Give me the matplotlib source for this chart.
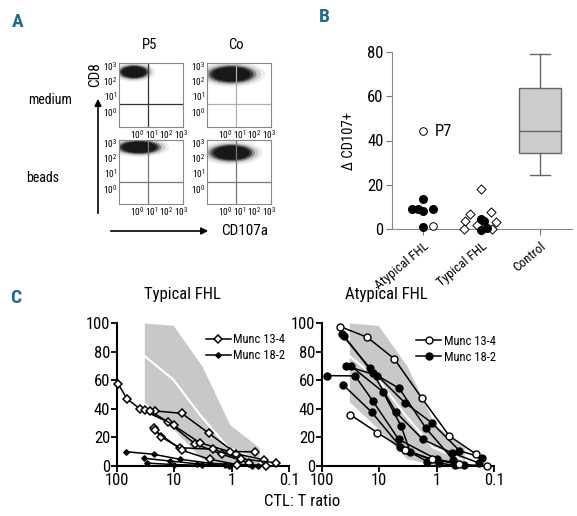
import numpy as np
import matplotlib
matplotlib.use("Agg")
from matplotlib import pyplot as plt
from matplotlib.patches import Ellipse

plt.rcParams['font.family'] = ['Roboto Condensed', 'DejaVu Sans']
plt.rcParams['mathtext.fontset'] = 'custom'
plt.rcParams['mathtext.rm'] = 'Roboto Condensed'
plt.rcParams['mathtext.it'] = 'Roboto Condensed'

# panel A: flow plots (cloud centre / size in decades)
flow_titles = ["P5", "Co"]
flow_rows = ["medium", "beads"]
cloud_x = [-0.2, 0.45, 0.15, 0.45]
cloud_y = [2.6, 2.45, 2.72, 2.35]
cloud_w = [1.9, 3.0, 2.7, 2.8]
cloud_h = [0.85, 1.1, 0.85, 1.05]
gate_x = [0.72, 0.78, 0.72, 0.74]
gate_y = [0.49, 0.49, 0.43, 0.38]
gate_col = ["#333333", "#b0b0b0", "#777777", "#777777"]

# panel B: delta CD107+
groups = ["Atypical FHL", "Typical FHL", "Control"]
atyp_fill_x = [0.81, 0.91, 1.0, 1.0, 1.17, 1.0]
atyp_fill_y = [8.9, 9.2, 8.1, 13.7, 8.9, 1.1]
atyp_open_x = [1.0, 1.17]
atyp_open_y = [44.3, 1.4]
typ_open_x = [1.72, 1.80, 1.70, 1.92, 2.0, 2.17, 2.25, 2.18]
typ_open_y = [3.8, 6.6, 0.0, 1.8, 18.1, 7.5, 3.3, 0.2]
typ_fill_x = [2.0, 2.04, 2.0, 2.1]
typ_fill_y = [4.4, 3.6, -0.6, 0.6]
ctrl_stats = dict(med=44.2, q1=34.2, q3=63.9, whislo=24.4, whishi=79.0)

# panel C: control range and median
band_x = [33.4, 10.5, 3.3, 1.08, 0.33]
band_top = [100, 98.4, 70, 29, 12.8]
band_low = [45, 26, 5, 1, 0.5]
med_x = [33.4, 10.5, 3.6, 1.15, 0.37]
med_y = [77, 60.6, 36, 12.8, 4.7]

# typical FHL curves (x = CTL:T ratio, y = % lysis)
typ13_x = [[96, 67, 40, 13, 4.4, 1.5, 0.5],
           [32, 21.6, 7.4, 2.5, 0.83, 0.27],
           [26.4, 10.3, 3.6, 1.08, 0.39],
           [23, 17, 8, 2.1, 0.7, 0.17],
           [22, 7.4, 2.4, 0.8, 0.25]]
typ13_y = [[57.6, 47, 40, 30.8, 15.6, 8.2, 2.3],
           [39, 38.5, 36.8, 22.9, 8.6, 4.2],
           [38.5, 28.4, 16.3, 10, 10],
           [26.3, 20.3, 12.8, 11.7, 5, 2.3],
           [25, 11, 4.7, 1, 0.3]]
typ18_x = [[70, 23, 8, 2.4, 0.8, 0.25],
           [34, 12, 4, 1.3, 0.45],
           [30, 10, 3.3, 1.1, 0.35]]
typ18_y = [[10, 8.2, 4.7, 2, 0.8, 0.3],
           [5.4, 3.5, 1.5, 0.5, 0.2],
           [2, 1, 0.5, 0.3, 0.1]]

# atypical FHL curves
atyp13_x = [[48, 16.2, 5.5, 1.82, 0.6, 0.21],
            [32.5, 10.8, 3.6, 1.2, 0.4, 0.13]]
atyp13_y = [[97.5, 90, 75, 47.5, 21, 8.5],
            [36, 23.3, 11.2, 4.7, 1.2, 0]]
atyp18_x = [[45, 14.5, 3.6, 1.22, 0.4, 0.16],
            [41.3, 13, 5.1, 1.75, 0.55, 0.18],
            [38, 10.8, 4.5, 1.53, 0.51],
            [31.6, 8.7, 4.2, 2.9, 0.9],
            [80.7, 26.5, 13, 4.6, 1.0, 0.33],
            [42.4, 13.5, 4.3, 1.45, 0.48]]
atyp18_y = [[92, 68.3, 44.3, 30.3, 10.7, 5.8],
            [91, 65, 37.5, 18.6, 9.3, 2],
            [70, 63.2, 54.3, 26.3, 4.2],
            [70, 52, 28.2, 10, 2],
            [63.2, 63, 45.5, 18.6, 4.7, 1],
            [56.6, 37.5, 13.5, 3, 0.5]]

letter_col = "#1f6a8e"
W, H = 577, 516
fig = plt.figure(figsize=(W / 100, H / 100), dpi=100)

def fx(px):
    return px / W

def fy(py):
    return 1 - py / H

# ---------------- panel A ----------------
fig.text(fx(12), fy(22), "A", color=letter_col, fontsize=14, fontweight="bold", va="center")
box_left = [119, 207, 119, 207]
box_top = [63, 63, 140, 140]
dec = ["$10^0$", "$10^1$", "$10^2$", "$10^3$"]
for i in range(4):
    ax = fig.add_axes([fx(box_left[i]), fy(box_top[i] + 64), fx(64), 64 / H])
    ax.set_xlim(-1.2, 3.1)
    ax.set_ylim(-1.05, 3.2)
    # layered ellipses stand in for the dot cloud
    for scale, alpha in [(1.5, 0.08), (1.3, 0.15), (1.12, 0.35), (0.98, 0.65), (0.85, 0.92)]:
        e = Ellipse((cloud_x[i], cloud_y[i]), cloud_w[i] * scale, cloud_h[i] * scale,
                    facecolor="#151515", edgecolor="none", alpha=alpha)
        ax.add_patch(e)
    ax.axvline(gate_x[i], color=gate_col[i], lw=0.9)
    ax.axhline(gate_y[i], color=gate_col[i], lw=0.9)
    ax.set_xticks([0, 1, 2, 3])
    ax.set_xticklabels(dec, fontsize=6.8)
    ax.set_yticks([0, 1, 2, 3])
    ax.set_yticklabels(dec, fontsize=6.8)
    ax.tick_params(length=0, pad=1.2)
    for s in ax.spines.values():
        s.set_color("#888888")
        s.set_linewidth(0.8)

fig.text(fx(150), fy(45), flow_titles[0], fontsize=10.5, ha="center", va="center")
fig.text(fx(236), fy(45), flow_titles[1], fontsize=10.5, ha="center", va="center")
fig.text(fx(50), fy(100), flow_rows[0], fontsize=10, ha="center", va="center")
fig.text(fx(43), fy(178), flow_rows[1], fontsize=10, ha="center", va="center")
fig.text(fx(95), fy(75), "CD8", fontsize=11, rotation=90, ha="center", va="center")
plt.annotate("", xy=(fx(98), fy(96)), xytext=(fx(98), fy(216)), xycoords="figure fraction",
             arrowprops=dict(arrowstyle="-|>", color="black", lw=1.2, mutation_scale=10))
plt.annotate("", xy=(fx(211), fy(231)), xytext=(fx(108), fy(231)), xycoords="figure fraction",
             arrowprops=dict(arrowstyle="-|>", color="black", lw=1.2, mutation_scale=10))
fig.text(fx(221), fy(231), "CD107a", fontsize=11, ha="left", va="center")

# ---------------- panel B ----------------
fig.text(fx(319), fy(17), "B", color=letter_col, fontsize=14, fontweight="bold", va="center")
axb = fig.add_axes([fx(392), fy(229), fx(180), 177 / H])
axb.scatter(atyp_fill_x, atyp_fill_y, s=30, color="black", zorder=3, clip_on=False)
axb.scatter(atyp_open_x, atyp_open_y, s=30, facecolor="white", edgecolor="black", lw=0.7, zorder=3, clip_on=False)
axb.scatter(typ_open_x, typ_open_y, marker="D", s=22, facecolor="white", edgecolor="black", lw=0.7, zorder=3, clip_on=False)
axb.scatter(typ_fill_x, typ_fill_y, s=30, color="black", zorder=4, clip_on=False)
axb.text(1.2, 44, "P7", fontsize=12, va="center")
st = dict(ctrl_stats)
st["fliers"] = []
axb.bxp([st], positions=[3], widths=0.72, patch_artist=True, showfliers=False,
        boxprops=dict(facecolor="#cccccc", edgecolor="#666666", lw=1),
        medianprops=dict(color="#666666", lw=1),
        whiskerprops=dict(color="#666666", lw=1),
        capprops=dict(color="#666666", lw=1), capwidths=0.34)
axb.set_xlim(0.47, 3.55)
axb.set_ylim(0, 80)
axb.set_xticks([1, 2, 3])
axb.set_xticklabels(groups, rotation=40, ha="right", rotation_mode="anchor", fontsize=9.5)
axb.set_yticks([0, 20, 40, 60, 80])
axb.tick_params(axis="y", labelsize=12, color="#777777", length=4, pad=2)
axb.tick_params(axis="x", color="#777777", length=4)
axb.set_ylabel("Δ CD107+", fontsize=10.5, labelpad=8)
for s in ["top", "right"]:
    axb.spines[s].set_visible(False)
for s in ["left", "bottom"]:
    axb.spines[s].set_color("#888888")

# ---------------- panel C ----------------
fig.text(fx(10), fy(298), "C", color=letter_col, fontsize=14, fontweight="bold", va="center")

def style_c(ax):
    ax.set_xscale("log")
    ax.set_xlim(100, 0.1)
    ax.set_ylim(0, 100)
    ax.set_xticks([100, 10, 1, 0.1])
    ax.set_xticklabels(["100", "10", "1", "0.1"])
    ax.minorticks_off()
    ax.set_yticks([0, 20, 40, 60, 80, 100])
    ax.tick_params(labelsize=12, width=1.3, length=4, pad=1)
    for s in ["top", "right"]:
        ax.spines[s].set_visible(False)
    for s in ["left", "bottom"]:
        ax.spines[s].set_linewidth(1.5)
    ax.fill_between(band_x, band_low, band_top, color="#c8c8c8", lw=0, zorder=1)
    ax.plot(med_x, med_y, color="white", lw=1.5, zorder=2)

axt = fig.add_axes([fx(117), fy(466), fx(172), 143 / H])
style_c(axt)
for i in range(len(typ18_x)):
    axt.plot(typ18_x[i], typ18_y[i], "-D", color="black", ms=2.8, lw=1.1, zorder=3, clip_on=False,
             label="Munc 18-2" if i == 0 else None)
for i in range(len(typ13_x)):
    axt.plot(typ13_x[i], typ13_y[i], "-D", color="black", mfc="white", mec="black", ms=4.3, mew=1.1,
             lw=1.1, zorder=4, clip_on=False, label="Munc 13-4" if i == 0 else None)
h, l = axt.get_legend_handles_labels()
axt.legend(h[::-1], l[::-1], loc="upper right", bbox_to_anchor=(1.03, 0.99), frameon=False,
           fontsize=9, handlelength=2.0, handletextpad=0.2, borderpad=0.2, labelspacing=0.25)
fig.text(fx(182), fy(294), "Typical FHL", fontsize=12, ha="center", va="center")

axa = fig.add_axes([fx(322), fy(466), fx(172), 143 / H])
style_c(axa)
for i in range(len(atyp18_x)):
    axa.plot(atyp18_x[i], atyp18_y[i], "-o", color="black", ms=5, lw=1.1, zorder=3, clip_on=False,
             label="Munc 18-2" if i == 0 else None)
for i in range(len(atyp13_x)):
    axa.plot(atyp13_x[i], atyp13_y[i], "-o", color="black", mfc="white", mec="black", ms=5, mew=1,
             lw=1.1, zorder=4, clip_on=False, label="Munc 13-4" if i == 0 else None)
h, l = axa.get_legend_handles_labels()
axa.legend(h[::-1], l[::-1], loc="upper right", bbox_to_anchor=(1.06, 0.98), frameon=False,
           fontsize=9, handlelength=2.0, handletextpad=0.2, borderpad=0.2, labelspacing=0.25)
fig.text(fx(386), fy(294), "Atypical FHL", fontsize=12, ha="center", va="center")
fig.text(fx(302), fy(502), "CTL: T ratio", fontsize=12, ha="center", va="center")

plt.savefig("out.png", dpi=100)
